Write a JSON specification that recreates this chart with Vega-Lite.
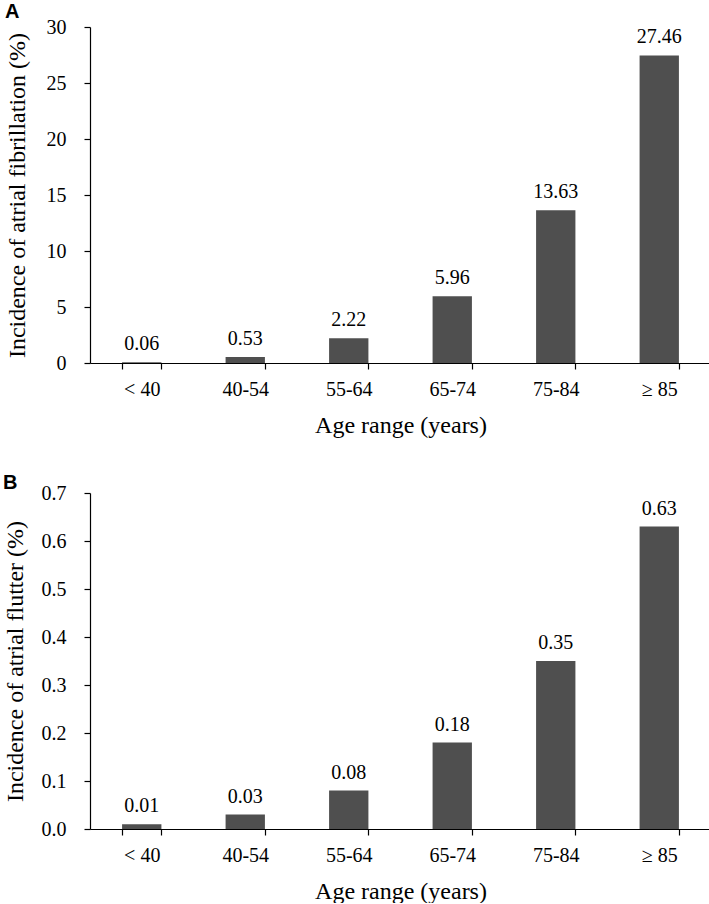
{
  "$schema": "https://vega.github.io/schema/vega-lite/v6.json",
  "padding": {"left": 3, "top": 2, "right": 0, "bottom": 0},
  "spacing": 36,
  "background": "white",
  "config": {
    "view": {"stroke": null},
    "axis": {
      "grid": false,
      "domainColor": "#000",
      "tickColor": "#000",
      "labelColor": "#000",
      "titleColor": "#000",
      "labelFontSize": 20,
      "titleFontSize": 24,
      "titleFontWeight": "normal",
      "tickSize": 6,
      "domainWidth": 1.2,
      "tickWidth": 1.2
    },
    "title": {"font": "Liberation Sans", "fontSize": 20, "fontWeight": "bold", "anchor": "start", "frame": "bounds", "color": "#000", "baseline": "alphabetic"}
  },
  "datasets": {
    "af": [
      {"age": "< 40", "value": 0.06},
      {"age": "40-54", "value": 0.53},
      {"age": "55-64", "value": 2.22},
      {"age": "65-74", "value": 5.96},
      {"age": "75-84", "value": 13.63},
      {"age": "≥ 85", "value": 27.46}
    ],
    "afl": [
      {"age": "< 40", "value": 0.01},
      {"age": "40-54", "value": 0.03},
      {"age": "55-64", "value": 0.08},
      {"age": "65-74", "value": 0.18},
      {"age": "75-84", "value": 0.35},
      {"age": "≥ 85", "value": 0.63}
    ]
  },
  "vconcat": [
    {
      "title": {"text": "A", "offset": 0, "dy": 5, "font": "Liberation Sans"},
      "width": 621,
      "height": 336,
      "data": {"name": "af"},
      "encoding": {
        "x": {
          "field": "age", "type": "nominal", "sort": null,
          "scale": {"paddingInner": 0.62, "paddingOuter": 0.31},
          "axis": {"title": "Age range (years)", "labelFont": "Liberation Serif", "titleFont": "Liberation Serif", "labelAngle": 0, "tickBand": "extent", "labelPadding": 10, "titlePadding": 14}
        },
        "y": {
          "field": "value", "type": "quantitative",
          "scale": {"domain": [0, 30], "nice": false},
          "axis": {"title": "Incidence of atrial fibrillation (%)", "labelFont": "Liberation Serif", "titleFont": "Liberation Serif", "values": [0, 5, 10, 15, 20, 25, 30], "format": "d", "labelPadding": 18, "titlePadding": 17}
        }
      },
      "layer": [
        {"mark": {"type": "bar", "color": "#4f4f4f"}},
        {"mark": {"type": "text", "baseline": "alphabetic", "dy": -12, "fontSize": 20, "font": "Liberation Serif", "color": "#000"},
         "encoding": {"text": {"field": "value", "type": "quantitative", "format": ".2f"}}}
      ]
    },
    {
      "title": {"text": "B", "offset": 0, "dy": 10, "font": "Liberation Sans"},
      "width": 621,
      "height": 336,
      "data": {"name": "afl"},
      "encoding": {
        "x": {
          "field": "age", "type": "nominal", "sort": null,
          "scale": {"paddingInner": 0.62, "paddingOuter": 0.31},
          "axis": {"title": "Age range (years)", "labelFont": "Liberation Serif", "titleFont": "Liberation Serif", "labelAngle": 0, "tickBand": "extent", "labelPadding": 10, "titlePadding": 14}
        },
        "y": {
          "field": "value", "type": "quantitative",
          "scale": {"domain": [0, 0.7], "nice": false},
          "axis": {"title": "Incidence of atrial flutter (%)", "labelFont": "Liberation Serif", "titleFont": "Liberation Serif", "values": [0, 0.1, 0.2, 0.3, 0.4, 0.5, 0.6, 0.7], "format": ".1f", "labelPadding": 18, "titlePadding": 14}
        }
      },
      "layer": [
        {"mark": {"type": "bar", "color": "#4f4f4f"}},
        {"mark": {"type": "text", "baseline": "alphabetic", "dy": -12, "fontSize": 20, "font": "Liberation Serif", "color": "#000"},
         "encoding": {"text": {"field": "value", "type": "quantitative", "format": ".2f"}}}
      ]
    }
  ]
}
